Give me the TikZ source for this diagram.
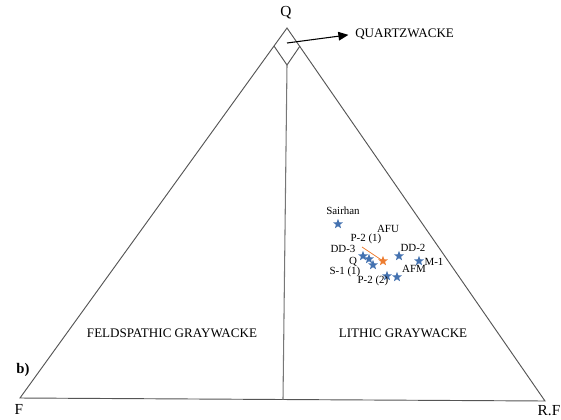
\documentclass[tikz,border=0pt]{standalone}
\usepackage{fontspec}
\setmainfont{Liberation Serif}
\usetikzlibrary{shapes.geometric,arrows.meta}
\definecolor{starblue}{RGB}{68,114,176}
\definecolor{starorange}{RGB}{237,125,49}
\definecolor{edge}{RGB}{85,85,85}
\tikzset{
  bstar/.style={star, star points=5, star point ratio=2.4, fill=starblue, draw=none, minimum size=7.8pt, inner sep=0pt},
  ostar/.style={bstar, fill=starorange},
  small/.style={font=\fontsize{8.2}{9}\selectfont, inner sep=0pt},
  field/.style={font=\fontsize{9.8}{11}\selectfont, inner sep=0pt},
  corner/.style={font=\fontsize{11.5}{12}\selectfont, inner sep=0pt},
  side/.style={draw=edge, line width=0.7pt},
}
\begin{document}
\begin{tikzpicture}[x=0.75pt,y=-0.75pt]
\useasboundingbox (0,0) rectangle (561,419);
% corners
\coordinate (A) at (287,28);
\coordinate (BL) at (20,398);
\coordinate (BR) at (545,401);
\coordinate (DL) at (274,46);
\coordinate (DR) at (300,46);
\coordinate (DB) at (287,65);
\coordinate (VB) at (283,399.5);
\draw[side] (A) -- (BL) -- (BR) -- cycle;
\draw[side] (DL) -- (DB) -- (DR);
\draw[draw=edge!80, line width=0.8pt] (DB) -- (VB);
% labels
\node[corner] (q) at (286,13) {Q};
\node[corner] (f) at (19,409) {F};
\node[corner] (rf) at (549,411) {R.F};
\node[corner, font=\fontsize{11}{12}\selectfont\bfseries] (b) at (23,370) {b)};
\node[field, anchor=west] (qw) at (355,34) {QUARTZWACKE};
\coordinate (arrs) at (287,43);
\draw[-{Triangle[length=7.5pt,width=6.5pt]}, line width=0.8pt, shorten >=5pt] (arrs) -- (qw.west);
\node[field] (fg) at (172,333) {FELDSPATHIC GRAYWACKE};
\node[field] (lg) at (403,333) {LITHIC GRAYWACKE};
% stars
\node[bstar] (s1) at (338,224) {};
\node[bstar] (s2) at (363,256) {};
\node[bstar] (s3) at (369,259) {};
\node[bstar] (s4) at (373,265) {};
\node[bstar] (s6) at (399,256) {};
\node[bstar] (s7) at (419,261) {};
\node[bstar] (s8) at (387,276) {};
\node[bstar] (s9) at (397,277) {};
\coordinate (ol) at (362,247);
\draw[starorange, line width=0.6pt] (ol) -- (383,261);
\node[ostar] (s5) at (383,261) {};
% sample labels
\node[small] (l1) at (343,211) {Sairhan};
\node[small] (l2) at (388,229) {AFU};
\node[small] (l3) at (366,239) {P-2 (1)};
\node[small] (l4) at (343,249) {DD-3};
\node[small] (l5) at (413,248) {DD-2};
\node[small] (l6) at (353,262) {Q};
\node[small] (l7) at (434,262) {M-1};
\node[small] (l8) at (345,272) {S-1 (1)};
\node[small] (l9) at (414,269) {AFM};
\node[small] (l10) at (373,281) {P-2 (2)};
\end{tikzpicture}
\end{document}
